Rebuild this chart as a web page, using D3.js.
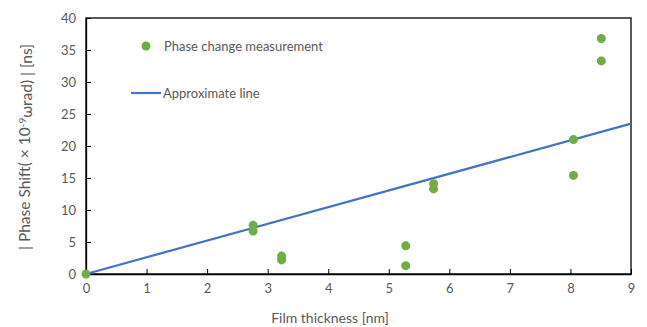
<!DOCTYPE html>
<html>
<head>
<meta charset="utf-8">
<script src="https://cdn.jsdelivr.net/npm/d3@7"></script>
<style>
  body { margin: 0; background: #fff; }
  text { font-family: Lato, "Open Sans", sans-serif; }
</style>
</head>
<body>
<div id="chart"></div>
<script>
// measured points (thickness nm, |phase shift| ns)
const thickness = [0, 2.76, 2.76, 3.23, 3.23, 5.28, 5.28, 5.74, 5.74, 8.05, 8.05, 8.51, 8.51];
const shift = [0, 7.6, 6.7, 2.8, 2.2, 4.4, 1.3, 14.1, 13.3, 21.0, 15.4, 36.8, 33.3];
// approximate line endpoints
const lineX = [0, 9];
const lineY = [0, 23.5];
const xTicks = [0, 1, 2, 3, 4, 5, 6, 7, 8, 9];
const yTicks = [0, 5, 10, 15, 20, 25, 30, 35, 40];

const W = 647, H = 327;
const margin = {top: 18, right: 16, bottom: 53, left: 86};
const width = W - margin.left - margin.right,
    height = H - margin.top - margin.bottom;

const svg = d3.select("#chart")
  .append("svg")
    .attr("width", W)
    .attr("height", H);

const g = svg.append("g")
    .attr("transform", `translate(${margin.left}, ${margin.top})`);

const x = d3.scaleLinear().domain([0, 9]).range([0, width]);
const y = d3.scaleLinear().domain([0, 40]).range([height, 0]);

// frame
g.append("rect")
  .attr("width", width)
  .attr("height", height)
  .attr("fill", "none")
  .attr("stroke", "#000")
  .attr("stroke-width", 1.3);

// axes with inward ticks
const xAxis = g.append("g")
  .attr("transform", `translate(0, ${height})`)
  .call(d3.axisBottom(x).tickValues(xTicks).tickSizeInner(-5).tickSizeOuter(0).tickPadding(10));
const yAxis = g.append("g")
  .call(d3.axisLeft(y).tickValues(yTicks).tickSizeInner(-5).tickSizeOuter(0).tickPadding(10));

[xAxis, yAxis].forEach(a => {
  a.select(".domain").attr("stroke", "#000").attr("stroke-width", 1.3);
  a.selectAll(".tick line").attr("stroke", "#000");
  a.selectAll(".tick text")
    .attr("fill", "#595959")
    .style("font-size", "13px")
    .style("font-family", "Lato, 'Open Sans', sans-serif");
});

// approximate line
const line = d3.line()
  .x(d => x(d[0]))
  .y(d => y(d[1]));
g.append("path")
  .datum(d3.zip(lineX, lineY))
  .attr("d", line)
  .attr("fill", "none")
  .attr("stroke", "#4472C4")
  .attr("stroke-width", 2.2);

// points
g.selectAll("circle.pt")
  .data(d3.zip(thickness, shift))
  .join("circle")
    .attr("class", "pt")
    .attr("cx", d => x(d[0]))
    .attr("cy", d => y(d[1]))
    .attr("r", 4.5)
    .attr("fill", "#70AD47");

// legend
const legend = g.append("g").attr("transform", "translate(45, 28)");
legend.append("circle")
  .attr("cx", 15).attr("cy", 0).attr("r", 4.5).attr("fill", "#70AD47");
legend.append("text")
  .attr("x", 33).attr("y", 0).attr("dy", "0.35em")
  .attr("fill", "#595959").style("font-size", "13px")
  .text("Phase change measurement");
legend.append("line")
  .attr("x1", 0).attr("x2", 30).attr("y1", 47).attr("y2", 47)
  .attr("stroke", "#4472C4").attr("stroke-width", 2.2);
legend.append("text")
  .attr("x", 32).attr("y", 47).attr("dy", "0.35em")
  .attr("fill", "#595959").style("font-size", "13px")
  .text("Approximate line");

// axis titles
svg.append("text")
  .attr("x", 330)
  .attr("y", 323)
  .attr("text-anchor", "middle")
  .attr("fill", "#595959")
  .style("font-size", "14px")
  .text("Film thickness [nm]");

const yt = svg.append("text")
  .attr("transform", `translate(30, 147) rotate(-90)`)
  .attr("text-anchor", "middle")
  .attr("fill", "#595959")
  .style("font-size", "15.5px");
yt.append("tspan").text("| Phase Shift( \u00D7 10");
yt.append("tspan").attr("dy", "-0.45em").style("font-size", "10px").text("-9");
yt.append("tspan").attr("dy", "0.45em").text("\u03C9rad) | [ns]");
</script>
</body>
</html>
